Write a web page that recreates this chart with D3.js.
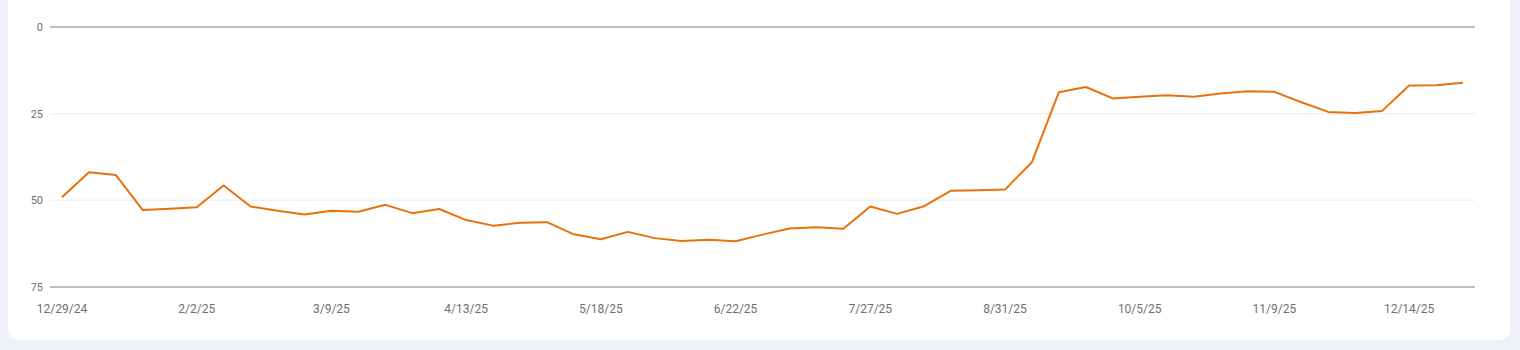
<!DOCTYPE html>
<html>
<head>
<meta charset="utf-8">
<script src="https://cdn.jsdelivr.net/npm/d3@7"></script>
<style>
  html, body { margin: 0; padding: 0; background: #eef1f8; }
  svg { display: block; font-family: Roboto, "Noto Sans", sans-serif; }
</style>
</head>
<body>
<div id="chart"></div>
<script>
// weekly dates
var dates = ["2024-12-29","2025-01-05","2025-01-12","2025-01-19","2025-01-26","2025-02-02","2025-02-09",
  "2025-02-16","2025-02-23","2025-03-02","2025-03-09","2025-03-16","2025-03-23","2025-03-30","2025-04-06",
  "2025-04-13","2025-04-20","2025-04-27","2025-05-04","2025-05-11","2025-05-18","2025-05-25","2025-06-01",
  "2025-06-08","2025-06-15","2025-06-22","2025-06-29","2025-07-06","2025-07-13","2025-07-20","2025-07-27",
  "2025-08-03","2025-08-10","2025-08-17","2025-08-24","2025-08-31","2025-09-07","2025-09-14","2025-09-21",
  "2025-09-28","2025-10-05","2025-10-12","2025-10-19","2025-10-26","2025-11-02","2025-11-09","2025-11-16",
  "2025-11-23","2025-11-30","2025-12-07","2025-12-14","2025-12-21","2025-12-28"];

var positions = [49.1, 41.9, 42.7, 52.8, 52.4, 52.0, 45.7, 51.8, 53.0, 54.1, 53.0, 53.3, 51.3,
  53.7, 52.5, 55.7, 57.3, 56.5, 56.3, 59.8, 61.2, 59.1, 60.9, 61.7, 61.4, 61.8, 59.9, 58.1, 57.8,
  58.2, 51.8, 53.9, 51.7, 47.2, 47.1, 46.9, 39.0, 18.8, 17.3, 20.6, 20.1, 19.7, 20.1, 19.2, 18.5,
  18.7, 21.7, 24.5, 24.8, 24.2, 16.9, 16.8, 16.1];

var tickDates = ["2024-12-29","2025-02-02","2025-03-09","2025-04-13","2025-05-18","2025-06-22",
  "2025-07-27","2025-08-31","2025-10-05","2025-11-09","2025-12-14"];
var tickLabels = ["12/29/24","2/2/25","3/9/25","4/13/25","5/18/25","6/22/25","7/27/25","8/31/25","10/5/25","11/9/25","12/14/25"];
var yTicks = [0, 25, 50, 75];

var width = 1520, height = 350;

var svg = d3.select("#chart").append("svg")
  .attr("width", width)
  .attr("height", height);

// card
svg.append("rect")
  .attr("x", 8).attr("y", -20)
  .attr("width", 1502).attr("height", 360)
  .attr("rx", 10).attr("ry", 10)
  .style("fill", "#ffffff");

var x = d3.scalePoint().domain(dates).range([62, 1463]);
var y = d3.scaleLinear().domain([0, 75]).range([27, 287]);

// grid lines
svg.append("g").selectAll("line")
  .data(yTicks)
  .enter().append("line")
  .attr("x1", 50).attr("x2", 1475)
  .attr("y1", function(d){ return y(d); })
  .attr("y2", function(d){ return y(d); })
  .style("stroke", function(d){ return (d == 0 || d == 75) ? "#bdbdbd" : "#f1f1f1"; })
  .style("stroke-width", function(d){ return (d == 0 || d == 75) ? 2 : 1.5; });

// y labels
svg.append("g").selectAll("text")
  .data(yTicks)
  .enter().append("text")
  .attr("x", 43)
  .attr("y", function(d){ return y(d); })
  .attr("dy", "0.35em")
  .attr("text-anchor", "end")
  .style("font-size", "11px")
  .style("fill", "#6f6f6f")
  .text(function(d){ return d; });

// x labels
svg.append("g").selectAll("text")
  .data(tickDates)
  .enter().append("text")
  .attr("x", function(d){ return x(d); })
  .attr("y", 313)
  .attr("text-anchor", "middle")
  .style("font-size", "12px")
  .style("fill", "#6f6f6f")
  .text(function(d, i){ return tickLabels[i]; });

// line
var line = d3.line()
  .x(function(d, i){ return x(dates[i]); })
  .y(function(d){ return y(d); });

svg.append("path")
  .datum(positions)
  .attr("d", line)
  .style("fill", "none")
  .style("stroke", "#e8710a")
  .style("stroke-width", 2)
  .style("stroke-linejoin", "round");
</script>
</body>
</html>
